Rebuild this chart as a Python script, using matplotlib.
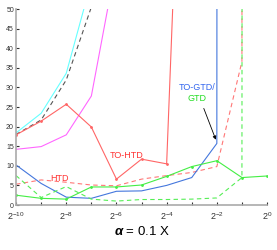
import matplotlib
matplotlib.use("Agg")
import matplotlib.pyplot as plt
import numpy as np

plt.rcParams['font.family'] = ['Liberation Sans', 'DejaVu Sans']
plt.rcParams['mathtext.fontset'] = 'custom'
plt.rcParams['mathtext.rm'] = 'Liberation Sans'
plt.rcParams['mathtext.it'] = 'Liberation Sans:italic'
plt.rcParams['mathtext.bf'] = 'Liberation Sans:bold:italic'
plt.rcParams['mathtext.default'] = 'regular'

## ------------------------------------------------- DATA -------------------------------------------------
powers = [-10, -9, -8, -7, -6, -5, -4, -3, -2, -1, 0]

cyan_vals = [18.4, 23.4, 33.6, 57.0, 90.0]
black_dash_vals = [18.0, 21.7, 31.9, 50.5, 80.0]
magenta_vals = [14.2, 14.9, 17.9, 27.8, 62.0, 100.0]
to_htd_vals = [17.9, 21.4, 25.7, 19.9, 6.6, 11.7, 10.5, 175.0]
htd_vals = [5.3, 6.4, 5.8, 5.1, 4.9, 6.6, 7.5, 8.3, 9.8, 36.6, 10000.0]
to_gtd_vals = [10.2, 5.5, 2.0, 1.7, 3.5, 3.6, 5.0, 7.0, 15.7, 10000.0]
gtd_vals = [2.5, 1.7, 1.5, 4.6, 4.6, 5.1, 7.3, 9.8, 11.3, 7.0, 7.4]
gtd_dash_vals = [7.5, 1.9, 4.7, 1.5, 1.0, 1.4, 1.4, 1.5, 1.8, 7.0, 10000.0]

x_ticks = powers
x_labels = ['$2^{%d}$' % p if p % 2 == 0 else '' for p in powers]
y_ticks = [0, 5, 10, 15, 20, 25, 30, 35, 40, 45, 50]

## ------------------------------------------------- FIGURE -------------------------------------------------
fig = plt.figure(figsize=(2.77, 2.5), dpi=100)
ax = fig.add_axes([0.058, 0.18, 0.906, 0.784])


def xs(vals):
    return [2.0 ** p for p in powers[:len(vals)]]


ax.plot(xs(cyan_vals), cyan_vals, color='#66ffff', lw=0.8)
ax.plot(xs(black_dash_vals), black_dash_vals, color='#555555', lw=0.8, ls=(0, (4, 3)))
ax.plot(xs(magenta_vals), magenta_vals, color='#ff66ff', lw=0.8)
ax.plot(xs(to_htd_vals), to_htd_vals, color='#ff6666', lw=0.8, marker='.', ms=2)
ax.plot(xs(htd_vals), htd_vals, color='#ff7777', lw=0.8, ls=(0, (4, 3)))
ax.plot(xs(to_gtd_vals), to_gtd_vals, color='#4477dd', lw=0.8)
ax.plot(xs(gtd_vals), gtd_vals, color='#44ee44', lw=0.8, marker='.', ms=2)
ax.plot(xs(gtd_dash_vals), gtd_dash_vals, color='#55ee55', lw=0.8, ls=(0, (4, 3)))

ax.set_xscale('log', base=2)
ax.set_xlim(2.0 ** -10, 2.0 ** 0)
ax.set_ylim(0, 50)
ax.set_xticks([2.0 ** p for p in x_ticks])
ax.set_xticklabels(x_labels)
ax.minorticks_off()
ax.set_yticks(y_ticks)
ax.tick_params(axis='y', direction='in', length=2, labelsize=5, colors='#333333', pad=1.5)
ax.tick_params(axis='x', direction='in', length=2, labelsize=6.5, colors='#333333', pad=4)

for s in ['top', 'right']:
    ax.spines[s].set_visible(False)
for s in ['left', 'bottom']:
    ax.spines[s].set_color('#aaaaaa')
    ax.spines[s].set_linewidth(1.2)

ax.text(2.0 ** -5.6, 12.5, 'TO-HTD', color='#ff3333', fontsize=6.5, ha='center', va='center')
ax.text(2.0 ** -8.28, 6.8, 'HTD', color='#ff3333', fontsize=6.5, ha='center', va='center')
ax.text(2.0 ** -2.8, 30.0, 'TO-GTD/', color='#3366ee', fontsize=6.5, ha='center', va='center')
ax.text(2.0 ** -2.8, 27.2, 'GTD', color='#22dd22', fontsize=6.5, ha='center', va='center')
ax.annotate('', xy=(2.0 ** -2, 16.0), xytext=(2.0 ** -2.56, 25.3),
            arrowprops=dict(arrowstyle='-|>', color='black', lw=0.6, mutation_scale=5))

ax.set_xlabel(r'$\mathbf{\alpha}$ = 0.1 X', fontsize=9.5, labelpad=2)

fig.savefig('out.png', dpi=100)
